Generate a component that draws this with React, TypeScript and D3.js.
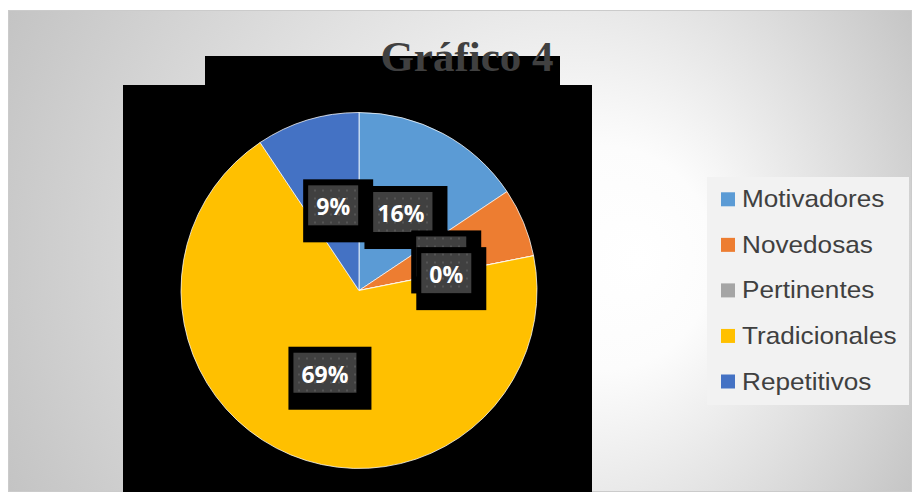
import React from "react";
import * as d3 from "d3";

const categories = ["Motivadores", "Novedosas", "Pertinentes", "Tradicionales", "Repetitivos"];
const values = [5, 2, 0, 22, 3];
const colors = ["#5B9BD5", "#ED7D31", "#A5A5A5", "#FFC000", "#4472C4"];
const title = "Gráfico 4";

const W = 912;
const H = 492;

export default function App() {
  const cx = 359;
  const cy = 290.5;
  const R = 178;
  const total = d3.sum(values);
  const pct = d3.format(".0%");
  const pie = d3.pie<number>().sort(null).value((d) => d);
  const arcs = pie(values);
  const arc = d3.arc<d3.PieArcDatum<number>>().innerRadius(0).outerRadius(R);
  const labelArc = d3.arc<d3.PieArcDatum<number>>().innerRadius(89).outerRadius(89);

  const legendY = d3.scalePoint<string>().domain(categories).range([207.3, 389.5]);

  return (
    <svg width={W} height={H} style={{ position: "absolute", left: 0, top: 0 }}>
      <defs>
        <radialGradient id="bg" gradientUnits="userSpaceOnUse" cx={450} cy={250} r={560} fx={640} fy={260}>
          <stop offset="0" stopColor="#ffffff" />
          <stop offset="0.2" stopColor="#fcfcfc" />
          <stop offset="0.45" stopColor="#e8e8e8" />
          <stop offset="0.85" stopColor="#c9c9c9" />
          <stop offset="1" stopColor="#bebebe" />
        </radialGradient>
        <pattern id="dots" width={8} height={8} patternUnits="userSpaceOnUse">
          <rect width={8} height={8} fill="#404040" />
          <rect x={3} y={3} width={2} height={2} fill="#555555" />
        </pattern>
      </defs>
      <rect x={0} y={0} width={W} height={H} fill="#ffffff" />
      <rect x={8.5} y={10.5} width={W - 9} height={H - 11} fill="url(#bg)" stroke="#cbcbcb" strokeWidth={1} />

      {/* black plot blocks */}
      <rect x={205} y={56} width={355} height={30} fill="#000" />
      <rect x={123} y={85} width={469} height={H - 85} fill="#000" />

      <text
        x={467}
        y={71}
        textAnchor="middle"
        fontFamily="'Liberation Serif', 'Times New Roman', serif"
        fontWeight="bold"
        fontSize={43}
        fill="#404040"
      >
        {title}
      </text>

      <g transform={`translate(${cx},${cy})`}>
        {arcs.map((a, i) => (
          <path key={i} d={arc(a) || ""} fill={colors[i]} stroke="#ffffff" strokeWidth={0.75} />
        ))}
        {arcs.map((a, i) => {
          const [lx, ly] = labelArc.centroid(a);
          const label = pct(values[i] / total);
          const nDigits = label.length - 1;
          const gw = nDigits * 13 + 20 + 17;
          const gh = 40;
          const gx = lx - gw / 2;
          const gy = ly - gh / 2;
          return (
            <g key={"l" + i}>
              <rect x={gx - 5} y={gy - 6} width={gw + 20} height={gh + 23} fill="#000" />
              <rect x={gx} y={gy} width={gw} height={gh} fill="url(#dots)" />
              <text
                x={lx}
                y={ly + 1}
                textAnchor="middle"
                dominantBaseline="central"
                fontFamily="'Open Sans', Lato, sans-serif"
                fontWeight="bold"
                fontSize={23}
                fill="#ffffff"
              >
                {label}
              </text>
            </g>
          );
        })}
      </g>

      <rect x={707} y={177} width={202} height={228} fill="#f2f2f2" />
      {categories.map((c, i) => {
        const y = legendY(c) as number;
        return (
          <g key={c}>
            <rect x={721} y={y - 15} width={14} height={14} fill={colors[i]} />
            <text
              transform={`translate(742,${y}) scale(1.09,1)`}
              fontFamily="'Liberation Sans', Arial, sans-serif"
              fontSize={24}
              fill="#404040"
            >
              {c}
            </text>
          </g>
        );
      })}
    </svg>
  );
}
